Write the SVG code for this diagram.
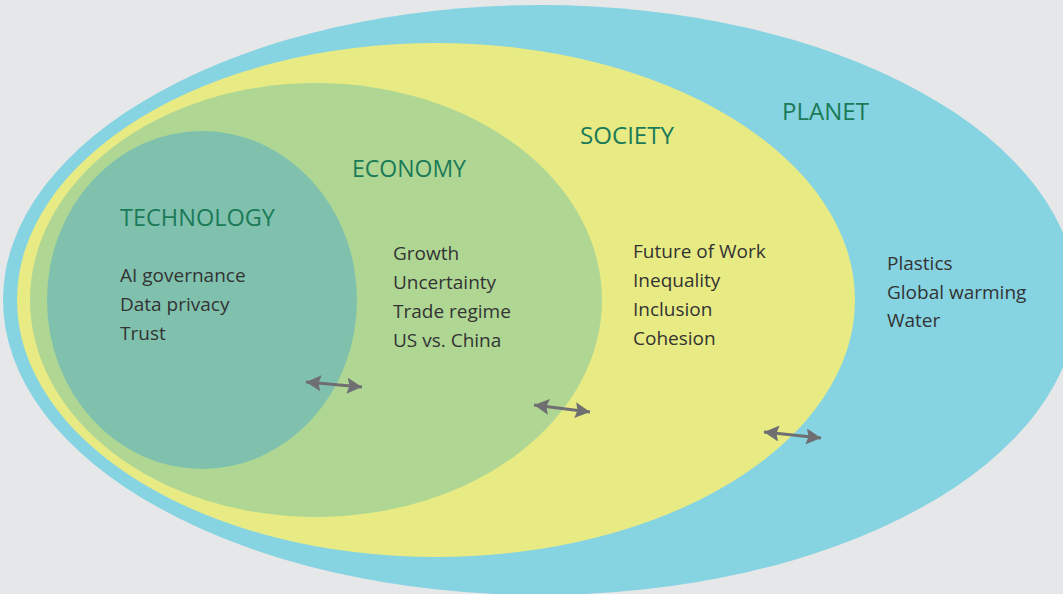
<svg xmlns="http://www.w3.org/2000/svg" width="1063" height="594" viewBox="0 0 1063 594">
  <defs>
    <style>
      .title { font-family: "Open Sans", "Liberation Sans", sans-serif; font-size: 23px; fill: #1b7a57; }
      .item { font-family: "Open Sans", "Liberation Sans", sans-serif; font-size: 19px; fill: #333333; }
      .link { stroke: #6f6f72; stroke-width: 3; fill: none; marker-start: url(#head); marker-end: url(#head); }
    </style>
    <marker id="head" viewBox="0 0 15 16" refX="15" refY="8" markerWidth="15" markerHeight="16" markerUnits="userSpaceOnUse" orient="auto-start-reverse">
      <path d="M0,0 L15,8 L0,16 L2.5,8 z" fill="#6f6f72"/>
    </marker>
  </defs>

  <rect width="1063" height="594" fill="#e6e7e8"/>

  <g id="planet">
    <ellipse cx="540" cy="300" rx="537" ry="295" fill="#86d3e2"/>
    <text class="title" x="782" y="120" textLength="87" lengthAdjust="spacingAndGlyphs">PLANET</text>
    <text class="item" x="887" y="270">Plastics</text>
    <text class="item" x="887" y="299">Global warming</text>
    <text class="item" x="887" y="327">Water</text>
  </g>

  <g id="society">
    <ellipse cx="436" cy="300" rx="419" ry="257" fill="#e8eb84"/>
    <text class="title" x="580" y="144" textLength="94" lengthAdjust="spacingAndGlyphs">SOCIETY</text>
    <text class="item" x="633" y="258">Future of Work</text>
    <text class="item" x="633" y="287">Inequality</text>
    <text class="item" x="633" y="316">Inclusion</text>
    <text class="item" x="633" y="345">Cohesion</text>
  </g>

  <g id="economy">
    <ellipse cx="316" cy="300" rx="286" ry="217" fill="#afd793"/>
    <text class="title" x="352" y="177" textLength="114" lengthAdjust="spacingAndGlyphs">ECONOMY</text>
    <text class="item" x="393" y="260">Growth</text>
    <text class="item" x="393" y="289">Uncertainty</text>
    <text class="item" x="393" y="318">Trade regime</text>
    <text class="item" x="393" y="347">US vs. China</text>
  </g>

  <g id="technology">
    <ellipse cx="202" cy="300" rx="155" ry="169" fill="#80c1ae"/>
    <text class="title" x="120" y="226" textLength="155" lengthAdjust="spacingAndGlyphs">TECHNOLOGY</text>
    <text class="item" x="120" y="282">AI governance</text>
    <text class="item" x="120" y="311">Data privacy</text>
    <text class="item" x="120" y="340">Trust</text>
  </g>

  <g id="connectors">
    <path class="link" d="M306,382 L362,387"/>
    <path class="link" d="M534,405 L590,412"/>
    <path class="link" d="M764,432 L821,438"/>
  </g>
</svg>
